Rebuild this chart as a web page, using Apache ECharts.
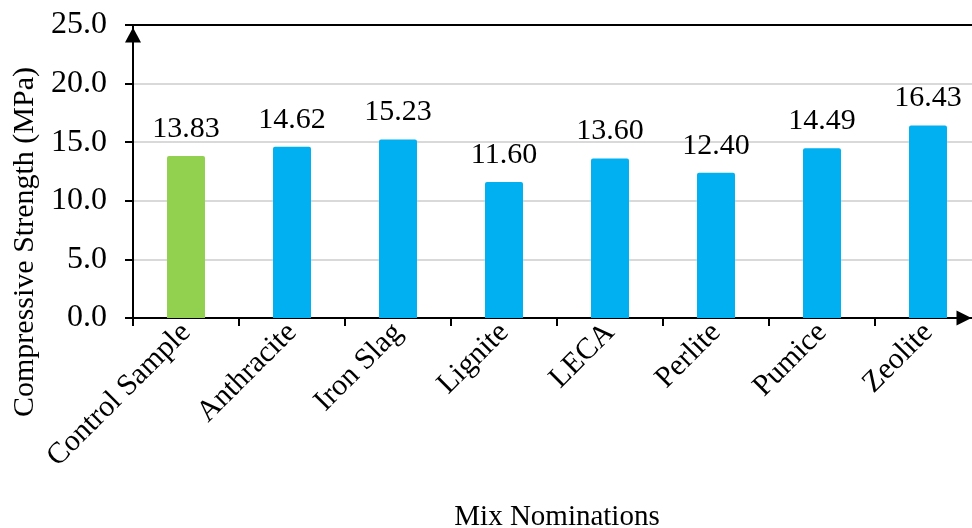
<!DOCTYPE html>
<html>
<head>
<meta charset="utf-8">
<script src="https://cdn.jsdelivr.net/npm/echarts@6/dist/echarts.min.js"></script>
<style>
  html, body { margin: 0; padding: 0; background: #fff; }
  #chart { width: 972px; height: 528px; }
</style>
</head>
<body>
<div id="chart"></div>
<script>
const categories = ["Control Sample", "Anthracite", "Iron Slag", "Lignite", "LECA", "Perlite", "Pumice", "Zeolite"];
const strengths = [13.83, 14.62, 15.23, 11.60, 13.60, 12.40, 14.49, 16.43];
const barColors = ["#92d050", "#00b0f0", "#00b0f0", "#00b0f0", "#00b0f0", "#00b0f0", "#00b0f0", "#00b0f0"];
const yTicks = { min: 0, max: 25, interval: 5 };

const font = "'Liberation Serif', 'Times New Roman', serif";

const chart = echarts.init(document.getElementById("chart"));

const option = {
  animation: false,
  backgroundColor: "#fff",
  grid: {
    left: 133,
    right: -9,
    top: 25,
    bottom: 210,
    containLabel: false,
    outerBoundsMode: "none",
  },
  xAxis: [
    {
      type: "category",
      data: categories,
      name: "Mix Nominations",
      nameLocation: "middle",
      nameGap: 185,
      nameTextStyle: { fontFamily: font, fontSize: 29, color: "#000" },
      axisLine: {
        show: true,
        symbol: ["none", "triangle"],
        symbolSize: [15, 15],
        symbolOffset: [0, -17],
        lineStyle: { color: "#000", width: 2 },
      },
      axisTick: { show: true, length: 8, lineStyle: { color: "#000", width: 2 } },
      axisLabel: {
        rotate: 45,
        margin: 10,
        fontFamily: font,
        fontSize: 30,
        color: "#000",
      },
      splitLine: { show: false },
    },
    {
      type: "category",
      data: categories,
      position: "top",
      axisLine: { show: true, lineStyle: { color: "#000", width: 2 } },
      axisTick: { show: false },
      axisLabel: { show: false },
      splitLine: { show: false },
    },
  ],
  yAxis: {
    type: "value",
    min: yTicks.min,
    max: yTicks.max,
    interval: yTicks.interval,
    axisLine: {
      show: true,
      symbol: ["none", "triangle"],
      symbolSize: [16, 15],
      symbolOffset: [0, -10],
      lineStyle: { color: "#000", width: 2 },
    },
    axisTick: { show: true, length: 8, lineStyle: { color: "#000", width: 2 } },
    axisLabel: {
      margin: 26,
      fontFamily: font,
      fontSize: 32,
      color: "#000",
      formatter: (v) => v.toFixed(1),
    },
    splitLine: { show: true, lineStyle: { color: "#d9d9d9", width: 2 } },
  },
  graphic: [
    {
      type: "text",
      x: 25,
      y: 242,
      rotation: Math.PI / 2,
      style: {
        text: "Compressive Strength (MPa)",
        fontFamily: font,
        fontSize: 30,
        fill: "#000",
        align: "center",
        verticalAlign: "middle",
      },
    },
  ],
  series: [
    {
      type: "bar",
      data: strengths.map((v, i) => ({ value: v, itemStyle: { color: barColors[i] } })),
      barWidth: 38,
      itemStyle: { borderRadius: [2, 2, 0, 0] },
      label: {
        show: true,
        position: "top",
        distance: 12,
        fontFamily: font,
        fontSize: 30,
        color: "#000",
        formatter: (p) => p.value.toFixed(2),
      },
    },
  ],
};

chart.setOption(option);
</script>
</body>
</html>
